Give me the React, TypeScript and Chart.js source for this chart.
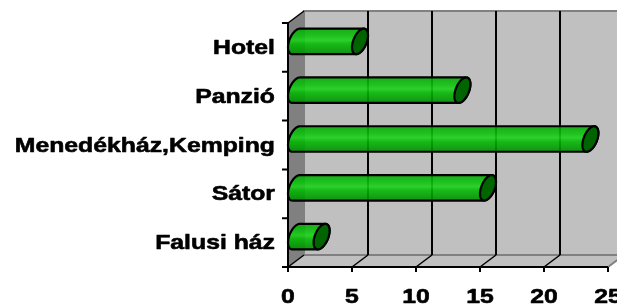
import React, { useEffect, useRef } from "react";
import { Chart, registerables } from "chart.js";

Chart.register(...registerables);

const categories = ["Falusi ház", "Sátor", "Menedékház,Kemping", "Panzió", "Hotel"];
const values = [2, 15, 23, 13, 5];
const xMin = 0;
const xMax = 25;
const xStep = 5;

const DX = 16;
const DY = -12;
const FONT = "bold 21px 'Liberation Sans', Arial, sans-serif";
const STRETCH = 1.18;

function drawStretchedText(ctx: CanvasRenderingContext2D, text: string, x: number, y: number, align: CanvasTextAlign) {
  ctx.save();
  ctx.translate(x, y);
  ctx.scale(STRETCH, 1);
  ctx.font = FONT;
  ctx.fillStyle = "#000";
  ctx.strokeStyle = "#000";
  ctx.lineWidth = 0.6;
  ctx.lineJoin = "round";
  ctx.textAlign = align;
  ctx.textBaseline = "alphabetic";
  ctx.fillText(text, 0, 0);
  ctx.strokeText(text, 0, 0);
  ctx.restore();
}

const wallsPlugin = {
  id: "walls3d",
  beforeDatasetsDraw(chart: any) {
    const ctx: CanvasRenderingContext2D = chart.ctx;
    const { left: L, right: R, top: T, bottom: B } = chart.chartArea;
    const xs = chart.scales.x;
    ctx.save();
    ctx.fillStyle = "#808080";
    ctx.beginPath();
    ctx.moveTo(L, T);
    ctx.lineTo(L + DX, T + DY);
    ctx.lineTo(L + DX, B + DY);
    ctx.lineTo(L, B);
    ctx.closePath();
    ctx.fill();
    ctx.fillStyle = "#c0c0c0";
    ctx.fillRect(L + DX, T + DY, R - L, B - T);
    ctx.strokeStyle = "#808080";
    ctx.lineWidth = 2;
    ctx.strokeRect(L + DX, T + DY, R - L, B - T);
    ctx.fillStyle = "#c0c0c0";
    ctx.beginPath();
    ctx.moveTo(L, B);
    ctx.lineTo(R, B);
    ctx.lineTo(R + DX, B + DY);
    ctx.lineTo(L + DX, B + DY);
    ctx.closePath();
    ctx.fill();
    ctx.strokeStyle = "#808080";
    ctx.lineWidth = 2;
    ctx.beginPath();
    ctx.moveTo(L + DX, B + DY);
    ctx.lineTo(R + DX, B + DY);
    ctx.moveTo(R, B);
    ctx.lineTo(R + DX, B + DY);
    ctx.stroke();
    for (let v = xMin + xStep; v < xMax; v += xStep) {
      const px = xs.getPixelForValue(v);
      ctx.strokeStyle = "#000";
      ctx.lineWidth = 2;
      ctx.beginPath();
      ctx.moveTo(px + DX, T + DY);
      ctx.lineTo(px + DX, B + DY);
      ctx.stroke();
      ctx.lineWidth = 1.5;
      ctx.beginPath();
      ctx.moveTo(px, B);
      ctx.lineTo(px + DX, B + DY);
      ctx.stroke();
    }
    ctx.strokeStyle = "#000";
    ctx.lineWidth = 1.5;
    ctx.beginPath();
    ctx.moveTo(L, T);
    ctx.lineTo(L + DX, T + DY);
    ctx.moveTo(L, B);
    ctx.lineTo(L + DX, B + DY);
    ctx.stroke();
    ctx.restore();
  },
  afterDatasetsDraw(chart: any) {
    const ctx: CanvasRenderingContext2D = chart.ctx;
    const { left: L, right: R, top: T, bottom: B } = chart.chartArea;
    const meta = chart.getDatasetMeta(0);
    ctx.save();
    meta.data.forEach((el: any) => {
      const props = el.getProps(["x", "y", "base", "height"], true);
      const r = props.height / 2;
      const ey = DY / 2;
      const ex = DX / 2;
      const cy = props.y + ey;
      const cxL = props.base + ex;
      const cxR = props.x + ex;
      const phi = Math.atan2(-ey, r);
      const pt = (cx: number, t: number) => [cx + ex * Math.sin(t), cy - r * Math.cos(t) + ey * Math.sin(t)];
      const N = 40;
      ctx.beginPath();
      for (let i = 0; i <= N; i++) {
        const t = phi + Math.PI + (Math.PI * i) / N;
        const [px, py] = pt(cxL, t);
        if (i === 0) ctx.moveTo(px, py);
        else ctx.lineTo(px, py);
      }
      for (let i = 0; i <= N; i++) {
        const t = phi + (Math.PI * i) / N;
        const [px, py] = pt(cxR, t);
        ctx.lineTo(px, py);
      }
      ctx.closePath();
      const ext = Math.sqrt(r * r + ey * ey);
      const g = ctx.createLinearGradient(0, cy - ext, 0, cy + ext);
      g.addColorStop(0, "rgba(0,170,0,0.88)");
      g.addColorStop(0.3, "rgba(10,195,10,0.88)");
      g.addColorStop(0.45, "rgba(25,210,25,0.88)");
      g.addColorStop(0.6, "rgba(0,185,0,0.88)");
      g.addColorStop(1, "rgba(0,140,0,0.9)");
      ctx.fillStyle = g;
      ctx.fill();
      ctx.strokeStyle = "#000";
      ctx.lineWidth = 2.2;
      ctx.lineJoin = "round";
      ctx.stroke();
      ctx.beginPath();
      for (let i = 0; i <= 2 * N; i++) {
        const t = (Math.PI * i) / N;
        const [px, py] = pt(cxR, t);
        if (i === 0) ctx.moveTo(px, py);
        else ctx.lineTo(px, py);
      }
      ctx.closePath();
      ctx.fillStyle = "#006400";
      ctx.fill();
      ctx.stroke();
    });

    const xs = chart.scales.x;
    const ys = chart.scales.y;
    ctx.strokeStyle = "#000";
    ctx.lineWidth = 2;
    ctx.beginPath();
    ctx.moveTo(L, T);
    ctx.lineTo(L, B + 1);
    ctx.moveTo(L - 1, B);
    ctx.lineTo(R, B);
    ctx.stroke();
    const n = chart.data.labels.length;
    const band = (B - T) / n;
    ctx.beginPath();
    for (let i = 0; i <= n; i++) {
      const y = T + i * band;
      ctx.moveTo(L - 6, y);
      ctx.lineTo(L, y);
    }
    ctx.stroke();
    xs.ticks.forEach((tk: any) => {
      const px = xs.getPixelForValue(tk.value);
      ctx.strokeStyle = "#000";
      ctx.lineWidth = 2;
      ctx.beginPath();
      ctx.moveTo(px, B);
      ctx.lineTo(px, B + 5);
      ctx.stroke();
      drawStretchedText(ctx, String(tk.value), px, 303, "center");
    });
    chart.data.labels.forEach((lab: string, i: number) => {
      const y = ys.getPixelForValue(i);
      drawStretchedText(ctx, lab, 275, y + 6.5, "right");
    });
    ctx.restore();
  },
};

export default function App() {
  const ref = useRef<HTMLCanvasElement | null>(null);
  useEffect(() => {
    if (!ref.current) return;
    const chart = new Chart(ref.current, {
      type: "bar",
      data: {
        labels: categories,
        datasets: [
          {
            data: values,
            backgroundColor: "rgba(0,0,0,0)",
            borderWidth: 0,
            barPercentage: 0.46,
            categoryPercentage: 1,
          },
        ],
      },
      options: {
        indexAxis: "y",
        animation: false,
        responsive: false,
        devicePixelRatio: 1,
        layout: { padding: { left: 288, right: 9, top: 23, bottom: 39 } },
        plugins: { legend: { display: false }, tooltip: { enabled: false } },
        scales: {
          x: { display: false, min: xMin, max: xMax, ticks: { stepSize: xStep } },
          y: { display: false, reverse: true },
        },
      },
      plugins: [wallsPlugin],
    });
    return () => chart.destroy();
  }, []);
  return (
    <div style={{ position: "fixed", left: 0, top: 0, width: 617, height: 306, background: "#fff" }}>
      <canvas ref={ref} width={617} height={306} />
    </div>
  );
}
